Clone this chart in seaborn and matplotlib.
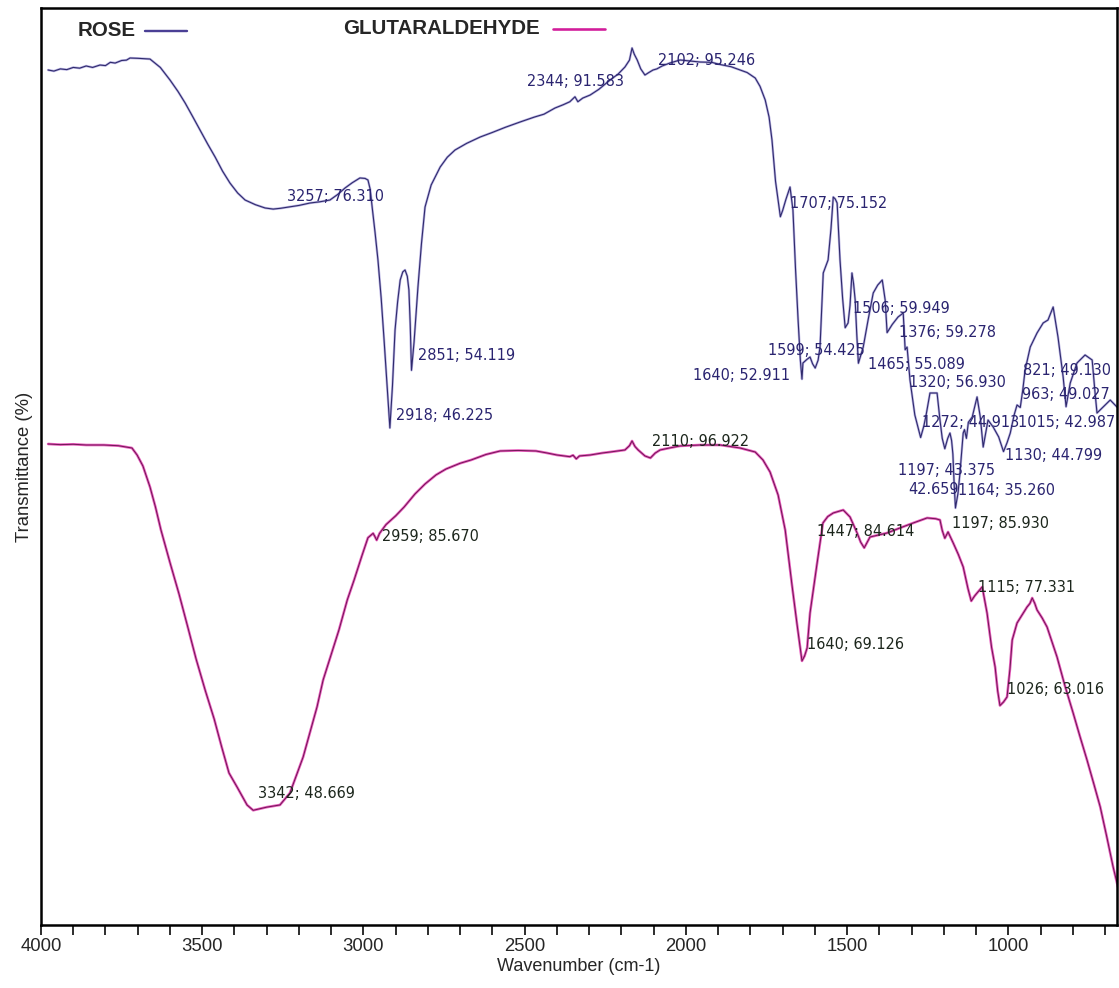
import numpy as np
import pandas as pd
import matplotlib
matplotlib.use("Agg")
import matplotlib.pyplot as plt
from matplotlib.ticker import MultipleLocator
import seaborn as sns

# ---------------- data: FTIR spectra (wavenumber cm-1, transmittance %) ----------------
# ROSE trace, unlabelled points
rose_wn = [3978, 3960, 3940, 3920, 3900, 3880, 3860, 3840, 3817, 3800, 3785, 3770, 3750,
           3735, 3724, 3700, 3680, 3662, 3630, 3600, 3575, 3553, 3530, 3507, 3483, 3460,
           3437, 3414, 3390, 3367, 3335, 3305, 3280, 3230, 3200, 3166, 3135, 3104, 3080,
           3057, 3035, 3011, 2995, 2986, 2979, 2973, 2964, 2955, 2945, 2936, 2926, 2910,
           2902, 2894, 2886, 2878, 2871, 2864, 2859, 2855, 2843, 2831, 2820, 2809, 2790,
           2762, 2740, 2716, 2680, 2638, 2600, 2560, 2514, 2470, 2440, 2406, 2380, 2360,
           2335, 2320, 2297, 2270, 2235, 2210, 2189, 2175, 2167, 2160, 2151, 2140, 2127,
           2115, 2090, 2074, 2050, 2018, 1990, 1956, 1920, 1894, 1860, 1832, 1810, 1785,
           1770, 1754, 1742, 1733, 1722, 1700, 1690, 1677, 1668, 1660, 1652, 1645, 1637,
           1625, 1615, 1607, 1590, 1584, 1574, 1565, 1559, 1550, 1543, 1537, 1531, 1522,
           1514, 1497, 1491, 1485, 1480, 1475, 1470, 1450, 1435, 1419, 1405, 1391, 1382,
           1360, 1342, 1326, 1314, 1305, 1290, 1262, 1255, 1243, 1221, 1212, 1205, 1188,
           1181, 1176, 1168, 1156, 1150, 1140, 1136, 1124, 1112, 1097, 1087, 1078, 1063,
           1047, 1030, 1004, 994, 982, 973, 955, 948, 932, 911, 892, 877, 861, 846, 830,
           808, 787, 762, 740, 731, 725, 706, 684, 663]
rose_t = [95.25, 95.10, 95.40, 95.30, 95.60, 95.50, 95.80, 95.60, 95.93, 95.85, 96.30, 96.20,
          96.55, 96.60, 96.89, 96.85, 96.80, 96.75, 95.60, 93.88, 92.30, 90.73, 88.90, 87.03,
          85.10, 83.33, 81.40, 79.77, 78.40, 77.44, 76.80, 76.35, 76.20, 76.50, 76.70, 77.03,
          77.20, 77.44, 78.20, 79.09, 79.80, 80.46, 80.40, 80.18, 78.90, 76.48, 73.00, 69.23,
          64.00, 58.27, 51.50, 52.00, 59.64, 63.50, 66.49, 67.60, 67.86, 67.00, 65.12, 60.50,
          58.00, 65.50, 71.50, 76.48, 79.50, 81.96, 83.30, 84.29, 85.20, 86.07, 86.70, 87.40,
          88.13, 88.80, 89.20, 90.04, 90.50, 90.90, 90.90, 91.40, 91.82, 92.60, 93.88, 94.70,
          95.66, 96.60, 98.26, 97.40, 96.62, 95.40, 94.56, 94.90, 95.40, 95.79, 96.20, 96.62,
          96.50, 96.34, 96.30, 96.00, 95.70, 95.25, 94.90, 94.15, 93.00, 91.14, 88.80, 85.66,
          80.00, 76.00, 77.50, 79.22, 76.07, 68.00, 61.00, 55.50, 55.12, 55.60, 55.94, 55.00,
          55.50, 57.31, 67.45, 68.50, 69.23, 73.50, 77.85, 77.60, 77.03, 69.23, 64.00, 60.60,
          63.00, 67.45, 66.00, 63.75, 59.00, 57.31, 61.00, 64.71, 65.80, 66.49, 63.75, 60.40,
          61.42, 61.97, 57.30, 52.79, 48.00, 46.50, 48.00, 51.01, 51.01, 47.31, 44.80, 44.80,
          45.53, 44.50, 38.50, 37.32, 40.06, 45.53, 46.00, 47.00, 47.72, 50.47, 47.72, 43.61,
          47.31, 46.35, 45.00, 44.20, 45.53, 48.00, 49.37, 51.50, 54.16, 57.31, 59.23, 60.60,
          61.01, 62.79, 58.68, 53.20, 52.38, 55.12, 56.22, 55.53, 51.01, 48.27, 49.09, 50.05,
          49.09]

# ROSE labelled peaks
rose_peak_wn = [3257, 2918, 2851, 2344, 2102, 1707, 1640, 1599, 1506, 1465, 1376, 1320,
                1272, 1197, 1172, 1164, 1130, 1015, 963, 821]
rose_peak_t = [76.310, 46.225, 54.119, 91.583, 95.246, 75.152, 52.911, 54.425, 59.949,
               55.089, 59.278, 56.930, 44.913, 43.375, 42.659, 35.260, 44.799, 42.987,
               49.027, 49.130]
rose_peak_show_wn = [True] * 14 + [False] + [True] * 5

# GLUTARALDEHYDE trace, unlabelled points
glut_wn = [3978, 3940, 3900, 3860, 3805, 3760, 3718, 3702, 3684, 3662, 3645, 3628, 3600,
           3572, 3545, 3519, 3490, 3463, 3440, 3417, 3392, 3361, 3300, 3259, 3228, 3187,
           3144, 3125, 3100, 3076, 3050, 3029, 3005, 2986, 2970, 2965, 2950, 2930, 2900,
           2874, 2840, 2809, 2775, 2744, 2700, 2666, 2620, 2576, 2520, 2465, 2430, 2400,
           2360, 2350, 2340, 2330, 2297, 2260, 2235, 2210, 2189, 2175, 2167, 2158, 2148,
           2127, 2095, 2080, 2050, 2018, 1956, 1894, 1832, 1785, 1761, 1739, 1714, 1692,
           1671, 1655, 1632, 1624, 1615, 1593, 1575, 1560, 1543, 1512, 1491, 1469, 1458,
           1429, 1400, 1376, 1336, 1295, 1252, 1225, 1212, 1205, 1187, 1171, 1155, 1140,
           1125, 1105, 1097, 1081, 1066, 1052, 1041, 1033, 1015, 1004, 995, 988, 973, 955,
           942, 933, 926, 918, 911, 895, 880, 865, 849, 825, 799, 778, 756, 735, 715, 695,
           675, 660]
glut_t = [98.84, 98.75, 98.80, 98.70, 98.70, 98.60, 98.29, 97.33, 95.83, 92.95, 90.20, 87.06,
          82.60, 78.30, 73.80, 69.39, 65.00, 61.18, 57.40, 53.78, 51.86, 49.40, 49.10, 49.40,
          51.04, 55.97, 62.82, 66.52, 70.00, 73.37, 77.50, 80.21, 83.50, 86.00, 86.60, 86.20,
          86.60, 87.80, 89.00, 90.20, 92.00, 93.36, 94.60, 95.41, 96.20, 96.65, 97.40, 97.88,
          97.95, 97.88, 97.60, 97.33, 97.10, 97.30, 96.80, 97.20, 97.33, 97.60, 97.74, 97.90,
          98.02, 98.60, 99.25, 98.50, 98.02, 97.20, 97.60, 98.02, 98.30, 98.57, 98.70, 98.70,
          98.29, 97.74, 96.65, 95.00, 91.85, 87.06, 79.53, 74.05, 69.80, 70.90, 75.69, 82.54,
          88.02, 88.90, 89.39, 89.80, 88.84, 86.65, 85.40, 86.10, 86.40, 86.65, 87.34, 88.02,
          88.71, 88.60, 88.43, 87.00, 86.79, 85.28, 83.70, 82.00, 79.00, 78.00, 78.43, 79.26,
          75.69, 71.00, 68.30, 65.00, 63.50, 64.19, 68.00, 71.99, 74.32, 75.60, 76.51, 77.00,
          77.75, 77.00, 76.11, 75.00, 73.78, 71.80, 69.67, 65.80, 61.99, 58.80, 55.56, 52.30,
          49.13, 45.10, 40.91, 38.17]

# GLUTARALDEHYDE labelled peaks
glut_peak_wn = [3342, 2959, 2110, 1640, 1447, 1197, 1115, 1026]
glut_peak_t = [48.669, 85.670, 96.922, 69.126, 84.614, 85.930, 77.331, 63.016]

# vertical offset of the lower trace (stacked display)
GLUT_SHIFT = 54.81

# label text offsets from each peak, in points (x right, y down)
rose_label_dx = [6, 6, 7, -48, 5, 10, -12, -47, 8, 10, 12, 4, 1, -47, -45, 3, 39, 15, 2, -43]
rose_label_dy = [-12, -12, -15, -15, -10, -13, -4, -18, -19, 1, 0, 33, -15, 22, 36, -18, 17, -29, -13, -36]
rose_label_ha = ["left"] * 6 + ["right"] + ["left"] * 13
glut_label_dx = [5, 5, 2, 5, -47, 7, 7, 7]
glut_label_dy = [-17, -4, -16, -16, -16, -15, -14, -16]


def spectrum(wn, t, pk_wn, pk_t, shift=0.0):
    df = pd.DataFrame({"wn": list(wn) + list(pk_wn), "t": list(t) + list(pk_t)})
    df = df.sort_values("wn", ascending=False).reset_index(drop=True)
    df["y"] = df["t"] - shift
    return df


rose = spectrum(rose_wn, rose_t, rose_peak_wn, rose_peak_t)
glut = spectrum(glut_wn, glut_t, glut_peak_wn, glut_peak_t, GLUT_SHIFT)

# ---------------- figure ----------------
sns.set_style("white")
plt.rcParams["font.family"] = ["DejaVu Sans"]

W, H, DPI = 1119, 988, 72
fig = plt.figure(figsize=(W / DPI, H / DPI), dpi=DPI)
ax = fig.add_axes([41 / W, 1 - 925 / H, 1076 / W, 917 / H])

ROSE_HALO, ROSE_CORE = "#9a92d6", "#2f2a6c"
GLUT_HALO, GLUT_CORE = "#e23fb0", "#6a1350"

sns.lineplot(data=rose, x="wn", y="y", ax=ax, sort=False, estimator=None,
             color=ROSE_HALO, lw=2.4, alpha=0.7)
sns.lineplot(data=rose, x="wn", y="y", ax=ax, sort=False, estimator=None,
             color=ROSE_CORE, lw=1.1)
sns.lineplot(data=glut, x="wn", y="y", ax=ax, sort=False, estimator=None,
             color=GLUT_HALO, lw=2.6, alpha=0.85)
sns.lineplot(data=glut, x="wn", y="y", ax=ax, sort=False, estimator=None,
             color=GLUT_CORE, lw=0.9)

ax.set_xlim(4000, 663)
ax.set_ylim(-21.85, 103.74)

LABEL_SIZE = 14.5

# peak labels
for i, (w, t) in enumerate(zip(rose_peak_wn, rose_peak_t)):
    txt = f"{w}; {t:.3f}" if rose_peak_show_wn[i] else f"{t:.3f}"
    ax.annotate(txt, xy=(w, t), xytext=(rose_label_dx[i], -rose_label_dy[i]),
                textcoords="offset points", ha=rose_label_ha[i], va="center",
                fontsize=LABEL_SIZE, color="#2a2470")
for i, (w, t) in enumerate(zip(glut_peak_wn, glut_peak_t)):
    ax.annotate(f"{w}; {t:.3f}", xy=(w, t - GLUT_SHIFT),
                xytext=(glut_label_dx[i], -glut_label_dy[i]),
                textcoords="offset points", ha="left", va="center",
                fontsize=LABEL_SIZE, color="#1c261c")

# axes styling
for s in ax.spines.values():
    s.set_linewidth(2.5)
    s.set_color("black")
ax.xaxis.set_major_locator(MultipleLocator(500))
ax.xaxis.set_minor_locator(MultipleLocator(100))
ax.tick_params(axis="x", which="both", direction="out", length=10, width=1.6,
               bottom=True, pad=3, labelsize=18.5, color="black")
ax.tick_params(axis="y", left=False, labelleft=False)
for lab in ax.get_xticklabels():
    lab.set_family(["Liberation Sans Narrow", "Liberation Sans"])
ax.set_xlabel("Wavenumber (cm-1)", fontsize=18, labelpad=3,
              family=["Liberation Sans Narrow", "Liberation Sans"])
ax.set_ylabel("Transmittance (%)", fontsize=18.5, labelpad=8,
              family=["Liberation Sans"])

# series key along the top
fig.text(78 / W, 1 - 30 / H, "ROSE", fontsize=20.5, fontweight="bold",
         family=["Liberation Sans"], va="center", ha="left")
fig.add_artist(plt.Line2D([145 / W, 187 / W], [1 - 31 / H, 1 - 31 / H],
                          color="#4a3f95", lw=2.4))
fig.text(343 / W, 1 - 28 / H, "GLUTARALDEHYDE", fontsize=20.5, fontweight="bold",
         family=["Liberation Sans"], va="center", ha="left")
fig.add_artist(plt.Line2D([553 / W, 605 / W], [1 - 29 / H, 1 - 29 / H],
                          color="#d21d9a", lw=2.6))

fig.savefig("out.png", dpi=DPI)
